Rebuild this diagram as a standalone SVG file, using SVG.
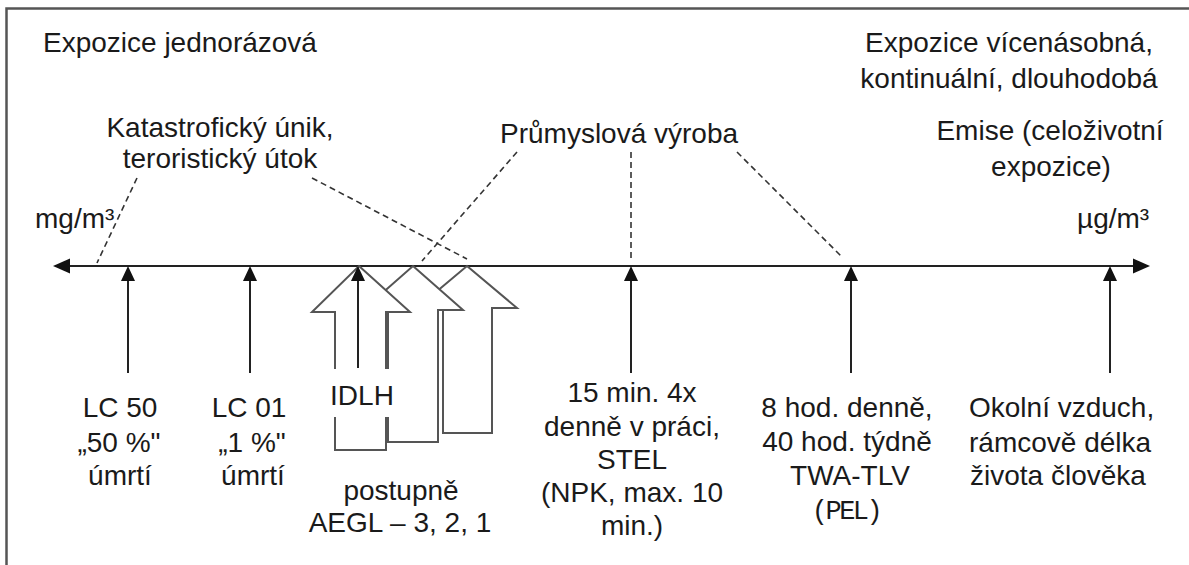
<svg xmlns="http://www.w3.org/2000/svg" width="1189" height="565" viewBox="0 0 1189 565">
<style>
text{font-family:"Liberation Sans",Arial,sans-serif;font-size:28px;fill:#1a1a1a}
.m{text-anchor:middle}
.mono{font-family:"Liberation Mono","Courier New",monospace;font-size:27px;letter-spacing:-2.5px}
.dash{stroke:#333;stroke-width:1.6;stroke-dasharray:6 4;fill:none}
.ax{stroke:#222;stroke-width:2;fill:none}
.big{fill:#fff;stroke:#555;stroke-width:2}
</style>
<rect width="1189" height="565" fill="#fff"/>
<path d="M6.5,565 V8.5 H1189" fill="none" stroke="#555" stroke-width="2.5"/>

<g id="connectors">
<line class="ax" x1="68" y1="266" x2="1135" y2="266"/>
<path d="M53,266 L70,258.5 L70,273.5 Z" fill="#111"/>
<path d="M1150,266 L1133,258.5 L1133,273.5 Z" fill="#111"/>
<line class="dash" x1="137" y1="178" x2="97" y2="263"/>
<line class="dash" x1="312" y1="178" x2="467" y2="259"/>
<line class="dash" x1="517" y1="152" x2="422" y2="261"/>
<line class="dash" x1="631" y1="152" x2="631" y2="259"/>
<line class="dash" x1="737" y1="152" x2="843" y2="258"/>
</g>

<g id="hollow-arrows">
<polygon id="aegl1" class="big" points="467,266 517,308 492,308 492,433 443,433 443,308 417,308"/>
<polygon id="aegl2" class="big" points="413,266 463,310 438,310 438,442 388,442 388,310 363,310"/>
<polygon id="aegl3" class="big" points="359,266 410,312 386,312 386,450 335,450 335,312 312,312"/>
<rect x="328" y="369" width="66" height="48" fill="#fff"/>
</g>

<g id="ticks" fill="#111">
<g id="t-lc50"><line class="ax" x1="128" y1="279" x2="128" y2="373"/><path d="M128,266 L121,281 L135,281 Z"/></g>
<g id="t-lc01"><line class="ax" x1="250" y1="279" x2="250" y2="373"/><path d="M250,266 L243,281 L257,281 Z"/></g>
<g id="t-idlh"><line class="ax" x1="358" y1="279" x2="358" y2="368"/><path d="M358,266 L351,281 L365,281 Z"/></g>
<g id="t-stel"><line class="ax" x1="631" y1="279" x2="631" y2="373"/><path d="M631,266 L624,281 L638,281 Z"/></g>
<g id="t-twa"><line class="ax" x1="851" y1="279" x2="851" y2="373"/><path d="M851,266 L844,281 L858,281 Z"/></g>
<g id="t-emise"><line class="ax" x1="1110" y1="279" x2="1110" y2="373"/><path d="M1110,266 L1103,281 L1117,281 Z"/></g>
</g>

<g id="top-left"><text x="43" y="52">Expozice jednorázová</text></g>
<g id="top-right">
<text class="m" x="1009" y="52">Expozice vícenásobná,</text>
<text class="m" x="1009" y="88">kontinuální, dlouhodobá</text>
</g>
<g id="katastrof">
<text class="m" x="220" y="137">Katastrofický únik,</text>
<text class="m" x="220" y="168">teroristický útok</text>
</g>
<g id="prumysl"><text x="500" y="143">Průmyslová výroba</text></g>
<g id="emise">
<text class="m" x="1050" y="140">Emise (celoživotní</text>
<text class="m" x="1051" y="176">expozice)</text>
</g>
<g id="units">
<text x="35" y="228">mg/m³</text>
<text x="1077" y="228">µg/m³</text>
</g>

<g id="lc50">
<text class="m" x="120" y="417">LC 50</text>
<text class="m" x="119" y="452">„50 %"</text>
<text class="m" x="120" y="485">úmrtí</text>
</g>
<g id="lc01">
<text class="m" x="249" y="417">LC 01</text>
<text class="m" x="252" y="452">„1 %"</text>
<text class="m" x="253" y="485">úmrtí</text>
</g>
<g id="idlh"><text class="m" x="362" y="405">IDLH</text></g>
<g id="aegl">
<text class="m" x="401" y="500">postupně</text>
<text class="m" x="400" y="532">AEGL – 3, 2, 1</text>
</g>
<g id="stel">
<text class="m" x="632" y="402">15 min. 4x</text>
<text class="m" x="632" y="436">denně v práci,</text>
<text class="m" x="632" y="469">STEL</text>
<text class="m" x="632" y="502">(NPK, max. 10</text>
<text class="m" x="632" y="535">min.)</text>
</g>
<g id="twa">
<text class="m" x="847" y="417">8 hod. denně,</text>
<text class="m" x="847" y="451">40 hod. týdně</text>
<text class="m" x="850" y="485">TWA-TLV</text>
<text class="m mono" x="846" y="519">(PEL)</text>
</g>
<g id="okolni">
<text x="969" y="417">Okolní vzduch,</text>
<text x="969" y="452">rámcově délka</text>
<text x="970" y="485">života člověka</text>
</g>
</svg>
